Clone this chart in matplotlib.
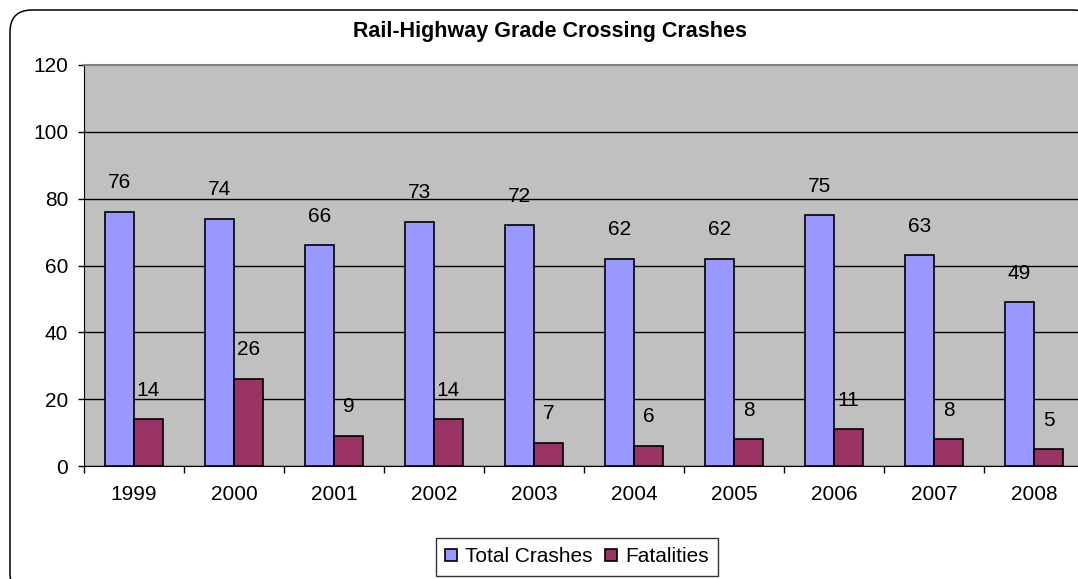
import matplotlib
matplotlib.use("Agg")
import matplotlib.pyplot as plt
from matplotlib.patches import FancyBboxPatch
import numpy as np

plt.rcParams['font.family'] = ['Liberation Sans', 'DejaVu Sans']

years = ["1999", "2000", "2001", "2002", "2003", "2004", "2005", "2006", "2007", "2008"]
total_crashes = [76, 74, 66, 73, 72, 62, 62, 75, 63, 49]
fatalities = [14, 26, 9, 14, 7, 6, 8, 11, 8, 5]
yticks = [0, 20, 40, 60, 80, 100, 120]
title = "Rail-Highway Grade Crossing Crashes"

W, H = 1078, 579
fig = plt.figure(figsize=(W / 100, H / 100), dpi=100)

# background axes for rounded border (pixel units)
bg = fig.add_axes([0, 0, 1, 1], zorder=-5)
bg.set_xlim(0, W)
bg.set_ylim(H, 0)
bg.axis('off')
bg.add_patch(FancyBboxPatch((10, 10), 1085, 585,
                            boxstyle="round,pad=0,rounding_size=22",
                            facecolor='white', edgecolor='black', linewidth=1.1))

left, right, top, bottom = 84, 1084, 65, 466
ax = fig.add_axes([left / W, 1 - bottom / H, (right - left) / W, (bottom - top) / H])
ax.set_facecolor('#C0C0C0')

x = np.arange(len(years))
w = 0.29
b1 = ax.bar(x - w, total_crashes, width=w, align='edge', color='#9999FF',
            edgecolor='black', linewidth=1.2, label='Total Crashes', zorder=3)
b2 = ax.bar(x, fatalities, width=w, align='edge', color='#993366',
            edgecolor='black', linewidth=1.2, label='Fatalities', zorder=3)

for rect, v in zip(b1, total_crashes):
    ax.annotate(str(v), (rect.get_x() + rect.get_width() / 2, v),
                xytext=(0, 21), textcoords='offset points', ha='center', va='center',
                fontsize=15, color='black', zorder=4)
for rect, v in zip(b2, fatalities):
    ax.annotate(str(v), (rect.get_x() + rect.get_width() / 2, v),
                xytext=(0, 21), textcoords='offset points', ha='center', va='center',
                fontsize=15, color='black', zorder=4)

ax.set_xlim(-0.5, len(years) - 0.5)
ax.set_ylim(0, 120)
ax.set_yticks(yticks)
ax.set_yticklabels([str(t) for t in yticks], fontsize=15)
ax.set_xticks(x)
ax.set_xticklabels(years, fontsize=15)
ax.set_xticks(np.arange(len(years) + 1) - 0.5, minor=True)
ax.tick_params(axis='x', which='major', length=0, pad=14)
ax.tick_params(axis='x', which='minor', length=5, width=1, color='black')
ax.tick_params(axis='y', which='major', length=4.3, width=1, pad=7)

ax.yaxis.grid(True, color='black', linewidth=1)
ax.set_axisbelow(True)
for t in ax.yaxis.get_gridlines()[-1:]:
    t.set_visible(False)

ax.spines['left'].set_color('black')
ax.spines['bottom'].set_color('black')
ax.spines['top'].set_color('#808080')
ax.spines['top'].set_linewidth(1.5)
ax.spines['right'].set_visible(False)

fig.text(550 / W, 1 - 31 / H, title, ha='center', va='center',
         fontsize=15.5, fontweight='bold')

leg = fig.legend(handles=[b1, b2], labels=['Total Crashes', 'Fatalities'],
                 loc='center', bbox_to_anchor=(577 / W, 1 - 557 / H),
                 ncol=2, fontsize=15, frameon=True, fancybox=False,
                 handlelength=0.55, handleheight=0.55, handletextpad=0.4,
                 columnspacing=0.6, borderpad=0.45)
leg.get_frame().set_edgecolor('black')
leg.get_frame().set_linewidth(1)

fig.savefig('out.png', dpi=100)
